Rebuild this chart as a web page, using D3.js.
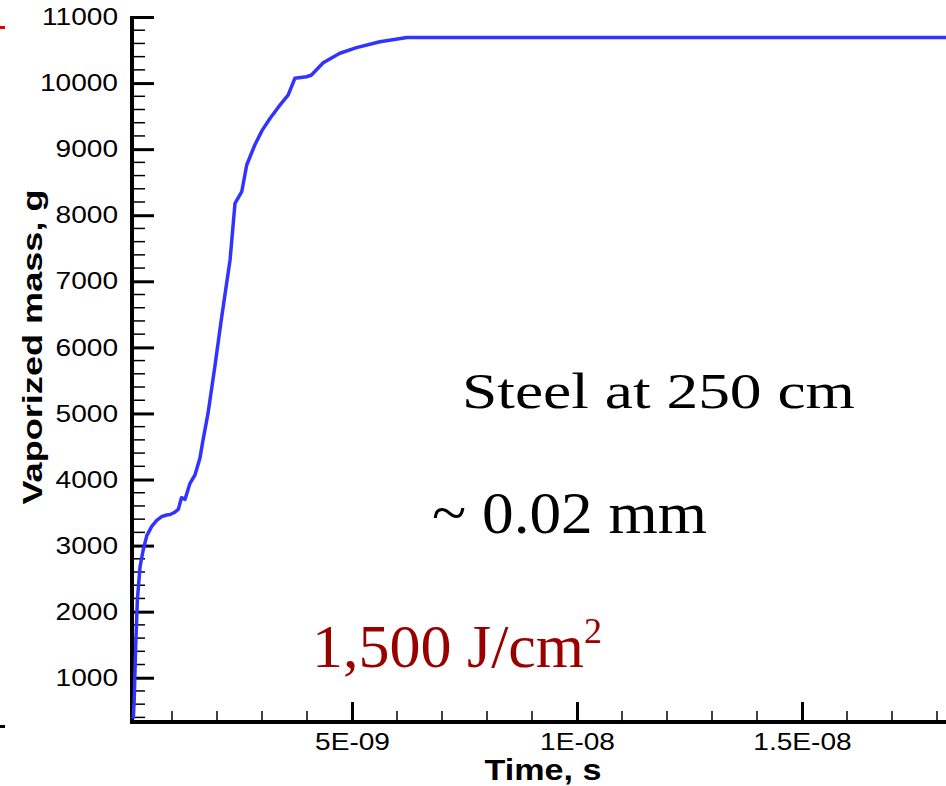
<!DOCTYPE html>
<html>
<head>
<meta charset="utf-8">
<script src="https://cdn.jsdelivr.net/npm/d3@7"></script>
<style>
  body { margin: 0; background: #fff; }
  svg { display: block; }
</style>
</head>
<body>
<svg width="946" height="786"></svg>
<script>
// time in nanoseconds, vaporized mass in g
var timeNs = [0.14, 0.16, 0.19, 0.23, 0.29, 0.36, 0.44, 0.55, 0.66, 0.77, 0.88, 0.96, 1.05, 1.14, 1.21, 1.29, 1.40, 1.51, 1.62, 1.69,
              1.80, 1.95, 2.10, 2.29, 2.40, 2.55, 2.66, 2.84, 3.00, 3.18, 3.38, 3.58, 3.73, 3.99, 4.10, 4.36, 4.73, 5.10, 5.62, 6.22,
              10.0, 14.0, 18.4];
var massG  = [380, 663, 1419, 2176, 2680, 2933, 3150, 3290, 3380, 3437, 3463, 3470, 3500, 3548, 3725, 3700, 3942, 4068, 4320, 4600,
              5000, 5700, 6440, 7322, 8180, 8356, 8760, 9063, 9280, 9467, 9650, 9819, 10072, 10096, 10122, 10308, 10451, 10536, 10626, 10690,
              10690, 10690, 10690];
var yTicks = [1000, 2000, 3000, 4000, 5000, 6000, 7000, 8000, 9000, 10000, 11000];
var xTicks = [5, 10, 15];
var xTickLabels = ["5E-09", "1E-08", "1.5E-08"];

var svg = d3.select("svg");
var plotLeft = 132, plotRight = 955, plotTop = 17, plotBottom = 722;

var x = d3.scaleLinear().domain([0.111, 18.4]).range([plotLeft, plotRight]);
var y = d3.scaleLinear().domain([330, 11000]).range([plotBottom, plotTop]);

var sans = "'Liberation Sans', Arial, Helvetica, sans-serif";
var serif = "'Liberation Serif', 'Times New Roman', Times, serif";

// stray marks from the neighbouring figure
svg.append("line").attr("x1", 0).attr("x2", 5).attr("y1", 27.5).attr("y2", 27.5)
   .attr("stroke", "#e00000").attr("stroke-width", 3);
svg.append("line").attr("x1", 0).attr("x2", 5).attr("y1", 726.5).attr("y2", 726.5)
   .attr("stroke", "#000").attr("stroke-width", 3);

// stretch text a bit wider, like in the original figure
function widen(k) {
  return function() {
    var w = this.getComputedTextLength();
    d3.select(this).attr("textLength", w * k).attr("lengthAdjust", "spacingAndGlyphs");
  };
}

// minor ticks
var gy = svg.append("g");
gy.selectAll(".ymin")
  .data(d3.range(400, 11000, 200).filter(function(v) { return v % 1000 != 0; }))
  .enter().append("line")
  .attr("x1", plotLeft).attr("x2", plotLeft + 13)
  .attr("y1", function(d) { return y(d); }).attr("y2", function(d) { return y(d); })
  .attr("stroke", "#000").attr("stroke-width", 1.5);

var gx = svg.append("g");
gx.selectAll(".xmin")
  .data(d3.range(1, 19, 1).filter(function(v) { return v % 5 != 0; }))
  .enter().append("line")
  .attr("x1", function(d) { return x(d); }).attr("x2", function(d) { return x(d); })
  .attr("y1", plotBottom).attr("y2", plotBottom - 11)
  .attr("stroke", "#000").attr("stroke-width", 1.5);

// y axis
var yAxis = svg.append("g")
   .attr("transform", "translate(" + plotLeft + ",0)")
   .call(d3.axisLeft(y).tickValues(yTicks).tickSizeInner(-22).tickSizeOuter(0).tickPadding(14).tickFormat(d3.format("d")));
yAxis.select(".domain").remove();
yAxis.selectAll(".tick line").attr("stroke-width", 3);
yAxis.selectAll(".tick text")
   .attr("font-family", sans).attr("font-size", 24).attr("fill", "#000")
   .each(widen(1.17));

// x axis
var xAxis = svg.append("g")
   .attr("transform", "translate(0," + plotBottom + ")")
   .call(d3.axisBottom(x).tickValues(xTicks).tickSizeInner(-20).tickSizeOuter(0).tickPadding(28)
         .tickFormat(function(d, i) { return xTickLabels[i]; }));
xAxis.select(".domain").remove();
xAxis.selectAll(".tick line").attr("stroke-width", 3);
xAxis.selectAll(".tick text")
   .attr("font-family", sans).attr("font-size", 24).attr("fill", "#000").attr("dy", 0)
   .each(widen(1.17));

// axis lines
svg.append("line").attr("x1", plotLeft).attr("x2", plotLeft).attr("y1", plotTop - 1).attr("y2", plotBottom + 2)
   .attr("stroke", "#000").attr("stroke-width", 4);
svg.append("line").attr("x1", plotLeft - 2).attr("x2", 946).attr("y1", plotBottom).attr("y2", plotBottom)
   .attr("stroke", "#000").attr("stroke-width", 4);

// curve
var line = d3.line()
   .x(function(d) { return x(d[0]); })
   .y(function(d) { return y(d[1]); });

svg.append("path")
   .datum(d3.zip(timeNs, massG))
   .attr("d", line)
   .attr("fill", "none")
   .attr("stroke", "#3333ff")
   .attr("stroke-width", 3.5)
   .attr("stroke-linejoin", "round");

// axis titles
svg.append("text")
   .attr("x", 543).attr("y", 780)
   .attr("text-anchor", "middle")
   .attr("font-family", sans).attr("font-weight", "bold").attr("font-size", 29)
   .attr("textLength", 117).attr("lengthAdjust", "spacingAndGlyphs")
   .text("Time, s");

svg.append("text")
   .attr("transform", "translate(42,347) rotate(-90)")
   .attr("text-anchor", "middle")
   .attr("font-family", sans).attr("font-weight", "bold").attr("font-size", 28)
   .attr("textLength", 315).attr("lengthAdjust", "spacingAndGlyphs")
   .text("Vaporized mass, g");

// annotations
svg.append("text")
   .attr("x", 462).attr("y", 408)
   .attr("font-family", serif).attr("font-size", 50)
   .attr("textLength", 393).attr("lengthAdjust", "spacingAndGlyphs")
   .text("Steel at 250 cm");

svg.append("text")
   .attr("x", 432).attr("y", 533)
   .attr("font-family", serif).attr("font-size", 60)
   .attr("textLength", 275).attr("lengthAdjust", "spacingAndGlyphs")
   .text("~ 0.02 mm");

var fl = svg.append("text")
   .attr("x", 312).attr("y", 667)
   .attr("font-family", serif).attr("font-size", 62).attr("fill", "#990000");
fl.append("tspan").text("1,500 J/cm");
fl.append("tspan").attr("font-size", 36).attr("dy", -24).text("2");
</script>
</body>
</html>
